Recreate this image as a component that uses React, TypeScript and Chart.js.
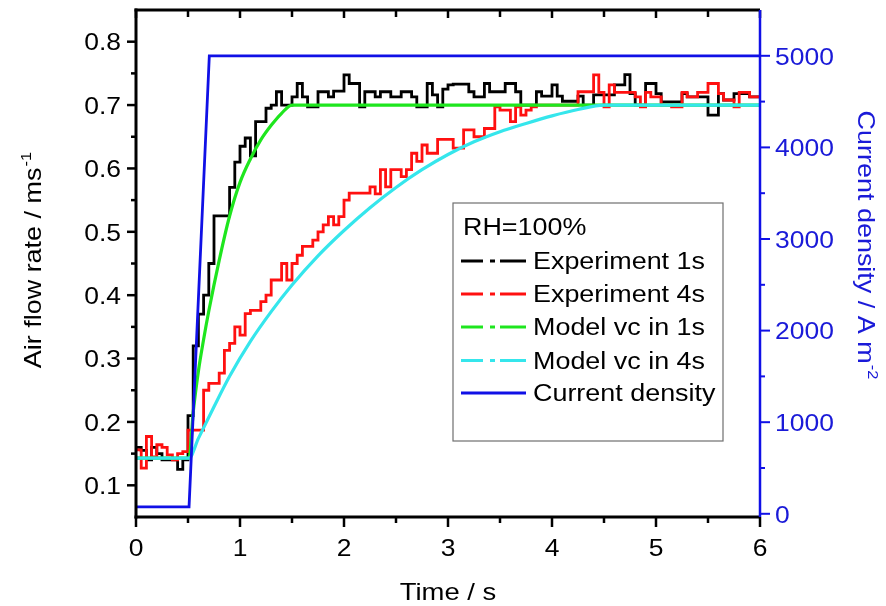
import React, { useEffect, useRef } from 'react';
import { Chart, registerables } from 'chart.js';

Chart.register(...registerables);

// ---------- data ----------
const expTime = [
  0, 0.05, 0.1, 0.15, 0.2, 0.25, 0.3, 0.35, 0.4, 0.45,
  0.5, 0.55, 0.6, 0.65, 0.7, 0.75, 0.8, 0.85, 0.9, 0.95,
  1, 1.05, 1.1, 1.15, 1.2, 1.25, 1.3, 1.35, 1.4, 1.45,
  1.5, 1.55, 1.6, 1.65, 1.7, 1.75, 1.8, 1.85, 1.9, 1.95,
  2, 2.05, 2.1, 2.15, 2.2, 2.25, 2.3, 2.35, 2.4, 2.45,
  2.5, 2.55, 2.6, 2.65, 2.7, 2.75, 2.8, 2.85, 2.9, 2.95,
  3, 3.05, 3.1, 3.15, 3.2, 3.25, 3.3, 3.35, 3.4, 3.45,
  3.5, 3.55, 3.6, 3.65, 3.7, 3.75, 3.8, 3.85, 3.9, 3.95,
  4, 4.05, 4.1, 4.15, 4.2, 4.25, 4.3, 4.35, 4.4, 4.45,
  4.5, 4.55, 4.6, 4.65, 4.7, 4.75, 4.8, 4.85, 4.9, 4.95,
  5, 5.05, 5.1, 5.15, 5.2, 5.25, 5.3, 5.35, 5.4, 5.45,
  5.5, 5.55, 5.6, 5.65, 5.7, 5.75, 5.8, 5.85, 5.9, 5.95,
  6,
];

const experiment1s = [
  0.16, 0.155, 0.14, 0.16, 0.15, 0.14, 0.14, 0.14, 0.125, 0.14,
  0.21, 0.32, 0.37, 0.40, 0.45, 0.525, 0.525, 0.525, 0.57, 0.61,
  0.635, 0.648, 0.62, 0.674, 0.674, 0.695, 0.70, 0.721, 0.70, 0.70,
  0.713, 0.734, 0.713, 0.697, 0.697, 0.721, 0.721, 0.713, 0.722, 0.722,
  0.7475, 0.734, 0.734, 0.697, 0.721, 0.721, 0.713, 0.721, 0.721, 0.713,
  0.713, 0.721, 0.721, 0.713, 0.697, 0.697, 0.734, 0.716, 0.697, 0.725,
  0.732, 0.733, 0.733, 0.733, 0.721, 0.713, 0.713, 0.734, 0.721, 0.721,
  0.721, 0.734, 0.734, 0.721, 0.70, 0.70, 0.70, 0.721, 0.714, 0.714,
  0.732, 0.714, 0.706, 0.706, 0.706, 0.714, 0.70, 0.70, 0.716, 0.716,
  0.716, 0.716, 0.732, 0.732, 0.748, 0.718, 0.70, 0.70, 0.734, 0.734,
  0.718, 0.705, 0.705, 0.705, 0.705, 0.718, 0.713, 0.713, 0.713, 0.713,
  0.684, 0.684, 0.718, 0.708, 0.708, 0.718, 0.718, 0.718, 0.713, 0.713,
  0.713,
];

const experiment4s = [
  0.156, 0.127, 0.177, 0.145, 0.164, 0.16, 0.148, 0.14, 0.15, 0.153,
  0.187, 0.187, 0.187, 0.25, 0.261, 0.261, 0.277, 0.313, 0.324, 0.35,
  0.337, 0.371, 0.376, 0.376, 0.39, 0.40, 0.424, 0.424, 0.45, 0.424,
  0.45, 0.463, 0.477, 0.477, 0.487, 0.50, 0.511, 0.524, 0.511, 0.524,
  0.55, 0.561, 0.561, 0.561, 0.561, 0.571, 0.56, 0.598, 0.571, 0.598,
  0.598, 0.587, 0.598, 0.624, 0.611, 0.637, 0.624, 0.624, 0.646, 0.646,
  0.646, 0.632, 0.632, 0.661, 0.661, 0.65, 0.65, 0.663, 0.663, 0.697,
  0.692, 0.692, 0.674, 0.697, 0.684, 0.692, 0.697, 0.70, 0.70, 0.70,
  0.70, 0.70, 0.70, 0.70, 0.70, 0.721, 0.721, 0.721, 0.7475, 0.72,
  0.697, 0.732, 0.72, 0.72, 0.72, 0.72, 0.713, 0.697, 0.72, 0.713,
  0.713, 0.70, 0.70, 0.697, 0.697, 0.72, 0.713, 0.713, 0.72, 0.72,
  0.734, 0.734, 0.718, 0.708, 0.708, 0.697, 0.72, 0.72, 0.713, 0.713,
  0.713,
];

const model1sTime = [0, 0.51, 0.55, 0.6, 0.65, 0.7, 0.8, 0.9, 1.0, 1.1, 1.2, 1.3, 1.4, 1.5, 6];
const model1sValues = [0.143, 0.143, 0.215, 0.28, 0.33, 0.375, 0.455, 0.525, 0.578, 0.615, 0.645, 0.668, 0.687, 0.70, 0.70];

const model4sTime = [0, 0.51, 0.6, 0.75, 0.9, 1.1, 1.3, 1.5, 1.75, 2.0, 2.25, 2.5, 2.75, 3.0, 3.25, 3.5, 3.75, 4.0, 4.25, 4.5, 6];
const model4sValues = [0.143, 0.143, 0.174, 0.224, 0.272, 0.327, 0.374, 0.416, 0.462, 0.502, 0.538, 0.570, 0.598, 0.622, 0.642, 0.658, 0.671, 0.683, 0.693, 0.70, 0.70];

const currentTime = [0, 0.51, 0.705, 6];
const currentValues = [75, 75, 5000, 5000];

const xTickValues = [0, 1, 2, 3, 4, 5, 6];
const xMinorValues = [0.5, 1.5, 2.5, 3.5, 4.5, 5.5];
const yTickValues = [0.1, 0.2, 0.3, 0.4, 0.5, 0.6, 0.7, 0.8];
const yMinorValues = [0.15, 0.25, 0.35, 0.45, 0.55, 0.65, 0.75];
const y2TickValues = [0, 1000, 2000, 3000, 4000, 5000];
const y2MinorValues = [500, 1500, 2500, 3500, 4500];

const legendTitle = 'RH=100%';
const legendLabels = ['Experiment 1s', 'Experiment 4s', 'Model vc in 1s', 'Model vc in 4s', 'Current density'];

const COLORS = {
  exp1: '#000000',
  exp4: '#ff1010',
  m1: '#1ee61e',
  m4: '#35e6ec',
  cur: '#1010e6',
  blueText: '#1a1ad8',
};
const legendColors = [COLORS.exp1, COLORS.exp4, COLORS.m1, COLORS.m4, COLORS.cur];
const legendDashDot = [true, true, true, true, false];

const FONT = '"Liberation Sans", Arial, Helvetica, sans-serif';

type TextOpts = {
  size: number;
  sx?: number;
  align?: 'left' | 'center' | 'right';
  rot?: number;
  color?: string;
  sup?: string;
};

function drawText(ctx: CanvasRenderingContext2D, text: string, x: number, y: number, o: TextOpts) {
  ctx.save();
  ctx.translate(x, y);
  if (o.rot) ctx.rotate(o.rot);
  ctx.scale(o.sx ?? 1, 1);
  ctx.fillStyle = o.color ?? '#000';
  ctx.textBaseline = 'alphabetic';
  ctx.textAlign = 'left';
  const mainFont = `${o.size}px ${FONT}`;
  const supSize = Math.round(o.size * 0.62);
  const supFont = `${supSize}px ${FONT}`;
  ctx.font = mainFont;
  const w = ctx.measureText(text).width;
  let supW = 0;
  const gap = o.sup ? o.size * 0.04 : 0;
  if (o.sup) {
    ctx.font = supFont;
    supW = ctx.measureText(o.sup).width;
  }
  const total = w + gap + supW;
  const align = o.align ?? 'left';
  const start = align === 'left' ? 0 : align === 'right' ? -total : -total / 2;
  ctx.font = mainFont;
  ctx.fillText(text, start, 0);
  if (o.sup) {
    ctx.font = supFont;
    ctx.fillText(o.sup, start + w + gap, -o.size * 0.42);
  }
  ctx.restore();
}

function seg(ctx: CanvasRenderingContext2D, x1: number, y1: number, x2: number, y2: number) {
  ctx.beginPath();
  ctx.moveTo(x1, y1);
  ctx.lineTo(x2, y2);
  ctx.stroke();
}

const decorPlugin = {
  id: 'decor',
  afterDraw(chart: any) {
    const ctx: CanvasRenderingContext2D = chart.ctx;
    const { left, right, top, bottom } = chart.chartArea;
    const xs = chart.scales.x;
    const ys = chart.scales.y;
    const y2s = chart.scales.y2;
    ctx.save();
    ctx.lineCap = 'butt';

    // frame
    ctx.strokeStyle = '#000';
    ctx.lineWidth = 3;
    seg(ctx, left, top - 1.5, left, bottom + 1.5);
    seg(ctx, left - 1.5, top, right, top);
    seg(ctx, left - 1.5, bottom, right, bottom);

    // x ticks (bottom outward, top inward)
    ctx.lineWidth = 2.5;
    xTickValues.forEach((v) => {
      const px = xs.getPixelForValue(v);
      seg(ctx, px, bottom, px, bottom + 10);
      seg(ctx, px, top, px, top + 8);
    });
    xMinorValues.forEach((v) => {
      const px = xs.getPixelForValue(v);
      seg(ctx, px, bottom, px, bottom + 6);
      seg(ctx, px, top, px, top + 7);
    });
    // left ticks
    yTickValues.forEach((v) => {
      const py = ys.getPixelForValue(v);
      seg(ctx, left, py, left - 9, py);
    });
    yMinorValues.forEach((v) => {
      const py = ys.getPixelForValue(v);
      seg(ctx, left, py, left - 5, py);
    });

    // right axis (blue)
    ctx.strokeStyle = COLORS.cur;
    ctx.lineWidth = 2.5;
    seg(ctx, right, top, right, bottom);
    ctx.lineWidth = 2;
    y2TickValues.forEach((v) => {
      const py = y2s.getPixelForValue(v);
      seg(ctx, right, py, right + 10, py);
    });
    y2MinorValues.forEach((v) => {
      const py = y2s.getPixelForValue(v);
      seg(ctx, right, py, right + 5, py);
    });

    // tick labels
    const tickSize = 24.5;
    const tickSx = 1.08;
    yTickValues.forEach((v) => {
      const py = ys.getPixelForValue(v);
      drawText(ctx, v.toFixed(1), left - 15, py + 8.8, { size: tickSize, sx: tickSx, align: 'right' });
    });
    xTickValues.forEach((v) => {
      const px = xs.getPixelForValue(v);
      drawText(ctx, String(v), px, bottom + 39, { size: tickSize, sx: tickSx, align: 'center' });
    });
    y2TickValues.forEach((v) => {
      const py = y2s.getPixelForValue(v);
      drawText(ctx, String(v), right + 15, py + 8.8, { size: tickSize, sx: tickSx, align: 'left', color: COLORS.blueText });
    });

    // axis titles
    drawText(ctx, 'Time / s', xs.getPixelForValue(3), 600, { size: 24.5, sx: 1.12, align: 'center' });
    drawText(ctx, 'Air flow rate / ms', 41, 260, { size: 24.5, sx: 1.1, align: 'center', rot: -Math.PI / 2, sup: '-1' });
    drawText(ctx, 'Current density / A m', 858, 245, {
      size: 24.5, sx: 1.1, align: 'center', rot: Math.PI / 2, sup: '-2', color: COLORS.blueText,
    });

    // legend
    const bx = 453, by = 203, bw = 270, bh = 238;
    ctx.strokeStyle = '#6f6f6f';
    ctx.lineWidth = 1.2;
    ctx.strokeRect(bx, by, bw, bh);
    const legSize = 23;
    const legSx = 1.17;
    drawText(ctx, legendTitle, 463, 234.5, { size: legSize, sx: legSx });
    const rowY = [261, 294, 327, 360.5, 393];
    legendLabels.forEach((lab, i) => {
      const cy = rowY[i];
      ctx.strokeStyle = legendColors[i];
      ctx.lineWidth = 3;
      if (legendDashDot[i]) {
        seg(ctx, 461, cy, 483, cy);
        seg(ctx, 490, cy, 495, cy);
        seg(ctx, 500, cy, 526, cy);
      } else {
        seg(ctx, 461, cy, 526, cy);
      }
      drawText(ctx, lab, 533, cy + 8.3, { size: legSize, sx: legSx });
    });

    ctx.restore();
  },
};

export default function App() {
  const canvasRef = useRef<HTMLCanvasElement | null>(null);

  useEffect(() => {
    document.body.style.margin = '0';
    const canvas = canvasRef.current;
    if (!canvas) return;
    const toXY = (xs: number[], ys: number[]) => xs.map((x, i) => ({ x, y: ys[i] }));

    const chart = new Chart(canvas, {
      type: 'line',
      data: {
        datasets: [
          {
            label: legendLabels[0],
            data: toXY(expTime, experiment1s),
            borderColor: COLORS.exp1,
            borderWidth: 2.8,
            stepped: true,
            yAxisID: 'y',
            order: 5,
          },
          {
            label: legendLabels[1],
            data: toXY(expTime, experiment4s),
            borderColor: COLORS.exp4,
            borderWidth: 2.8,
            stepped: true,
            yAxisID: 'y',
            order: 4,
          },
          {
            label: legendLabels[2],
            data: toXY(model1sTime, model1sValues),
            borderColor: COLORS.m1,
            borderWidth: 3.2,
            cubicInterpolationMode: 'monotone',
            yAxisID: 'y',
            order: 3,
          },
          {
            label: legendLabels[3],
            data: toXY(model4sTime, model4sValues),
            borderColor: COLORS.m4,
            borderWidth: 3.2,
            cubicInterpolationMode: 'monotone',
            yAxisID: 'y',
            order: 2,
          },
          {
            label: legendLabels[4],
            data: toXY(currentTime, currentValues),
            borderColor: COLORS.cur,
            borderWidth: 2.8,
            yAxisID: 'y2',
            order: 1,
          },
        ],
      },
      options: {
        responsive: false,
        animation: false,
        parsing: true,
        elements: {
          point: { radius: 0, hoverRadius: 0 },
          line: { tension: 0, fill: false },
        },
        layout: { padding: { left: 136, right: 126, top: 10, bottom: 89 } },
        plugins: {
          legend: { display: false },
          tooltip: { enabled: false },
          title: { display: false },
        },
        events: [],
        scales: {
          x: { type: 'linear', min: 0, max: 6, display: false },
          y: { type: 'linear', min: 0.05, max: 0.85, display: false },
          y2: { type: 'linear', min: -35, max: 5500, display: false, position: 'right' },
        },
      },
      plugins: [decorPlugin],
    });

    return () => chart.destroy();
  }, []);

  return (
    <div style={{ width: 886, height: 606 }}>
      <canvas ref={canvasRef} width={886} height={606} style={{ display: 'block' }} />
    </div>
  );
}
